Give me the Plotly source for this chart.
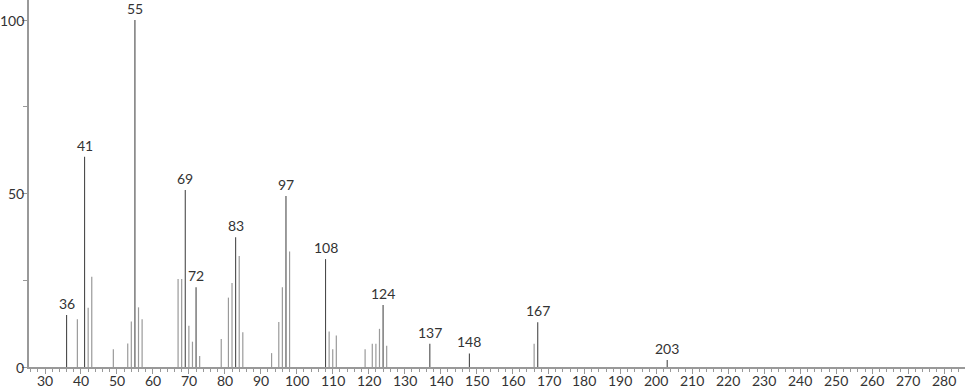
import plotly.graph_objects as go

# m/z values and relative intensities
mz = [36, 39, 41, 42, 43, 49, 53, 54, 55, 56, 57, 67, 68, 69, 70, 71, 72, 73,
      79, 81, 82, 83, 84, 85, 93, 95, 96, 97, 98, 108, 109, 110, 111,
      119, 121, 122, 123, 124, 125, 137, 148, 166, 167, 203]
intensity = [15.0, 13.8, 60.6, 17.1, 26.0, 5.1, 6.8, 13.1, 100.0, 17.2, 13.8,
             25.4, 25.4, 51.0, 11.9, 7.3, 23.0, 3.2,
             8.1, 20.0, 24.2, 37.4, 32.0, 10.0, 4.0, 13.0, 23.0, 49.3, 33.3,
             31.1, 10.2, 5.1, 9.1,
             5.1, 6.7, 6.7, 11.0, 17.9, 6.1, 6.7, 3.9, 6.7, 12.9, 2.0]
labeled = [36, 41, 55, 69, 72, 83, 97, 108, 124, 137, 148, 167, 203]
x_ticks = list(range(30, 290, 10))
y_ticks = [0, 50, 100]

FONT = "Lato, DejaVu Sans, sans-serif"

def stems(sel):
    xs, ys = [], []
    for m, h in zip(mz, intensity):
        if sel(m):
            xs += [m, m, None]
            ys += [0, h, None]
    return xs, ys

fig = go.Figure()
gx, gy = stems(lambda m: m not in labeled)
fig.add_trace(go.Scatter(x=gx, y=gy, mode="lines",
                         line=dict(color="#9a9a9a", width=1.2), hoverinfo="skip"))
dx, dy = stems(lambda m: m in labeled)
fig.add_trace(go.Scatter(x=dx, y=dy, mode="lines",
                         line=dict(color="#4a4a4a", width=1.1), hoverinfo="skip"))

annotations = []
for m in labeled:
    annotations.append(dict(x=m, y=intensity[mz.index(m)], xref="x", yref="y",
                            text=str(m), showarrow=False, xanchor="center",
                            yanchor="bottom", yshift=1,
                            font=dict(family=FONT, size=14, color="#333333")))
for v in x_ticks:
    annotations.append(dict(x=v, y=0, xref="x", yref="paper", text=str(v),
                            showarrow=False, xanchor="center", yanchor="top",
                            yshift=-4, borderpad=0,
                            font=dict(family=FONT, size=14, color="#333333")))
for v in y_ticks:
    annotations.append(dict(x=0, y=v, xref="paper", yref="y", text=str(v),
                            showarrow=False, xanchor="right", yanchor="middle",
                            xshift=-4, borderpad=0,
                            font=dict(family=FONT, size=14, color="#333333")))

fig.update_layout(
    width=966, height=389,
    margin=dict(l=29, r=1, t=0, b=22, autoexpand=False),
    paper_bgcolor="white", plot_bgcolor="white",
    showlegend=False,
    font=dict(family=FONT, size=14, color="#333333"),
    annotations=annotations,
)
fig.update_xaxes(range=[25.55, 285.8], tickvals=x_ticks, showticklabels=False,
                 automargin=False,
                 showgrid=False, zeroline=False, showline=True, linecolor="#999999", linewidth=2,
                 ticks="outside", ticklen=5, tickcolor="#999999", tickwidth=1,
                 minor=dict(dtick=2, tick0=0, ticks="outside", ticklen=3, tickcolor="#999999"))
fig.update_yaxes(range=[0, 105.8], tickvals=y_ticks, showticklabels=False,
                 automargin=False,
                 showgrid=False, zeroline=False, showline=True, linecolor="#999999", linewidth=2,
                 ticks="outside", ticklen=5, tickcolor="#999999", tickwidth=1,
                 minor=dict(tickvals=[25, 75], ticks="outside", ticklen=4, tickcolor="#999999"))

fig.write_html("out.html")
